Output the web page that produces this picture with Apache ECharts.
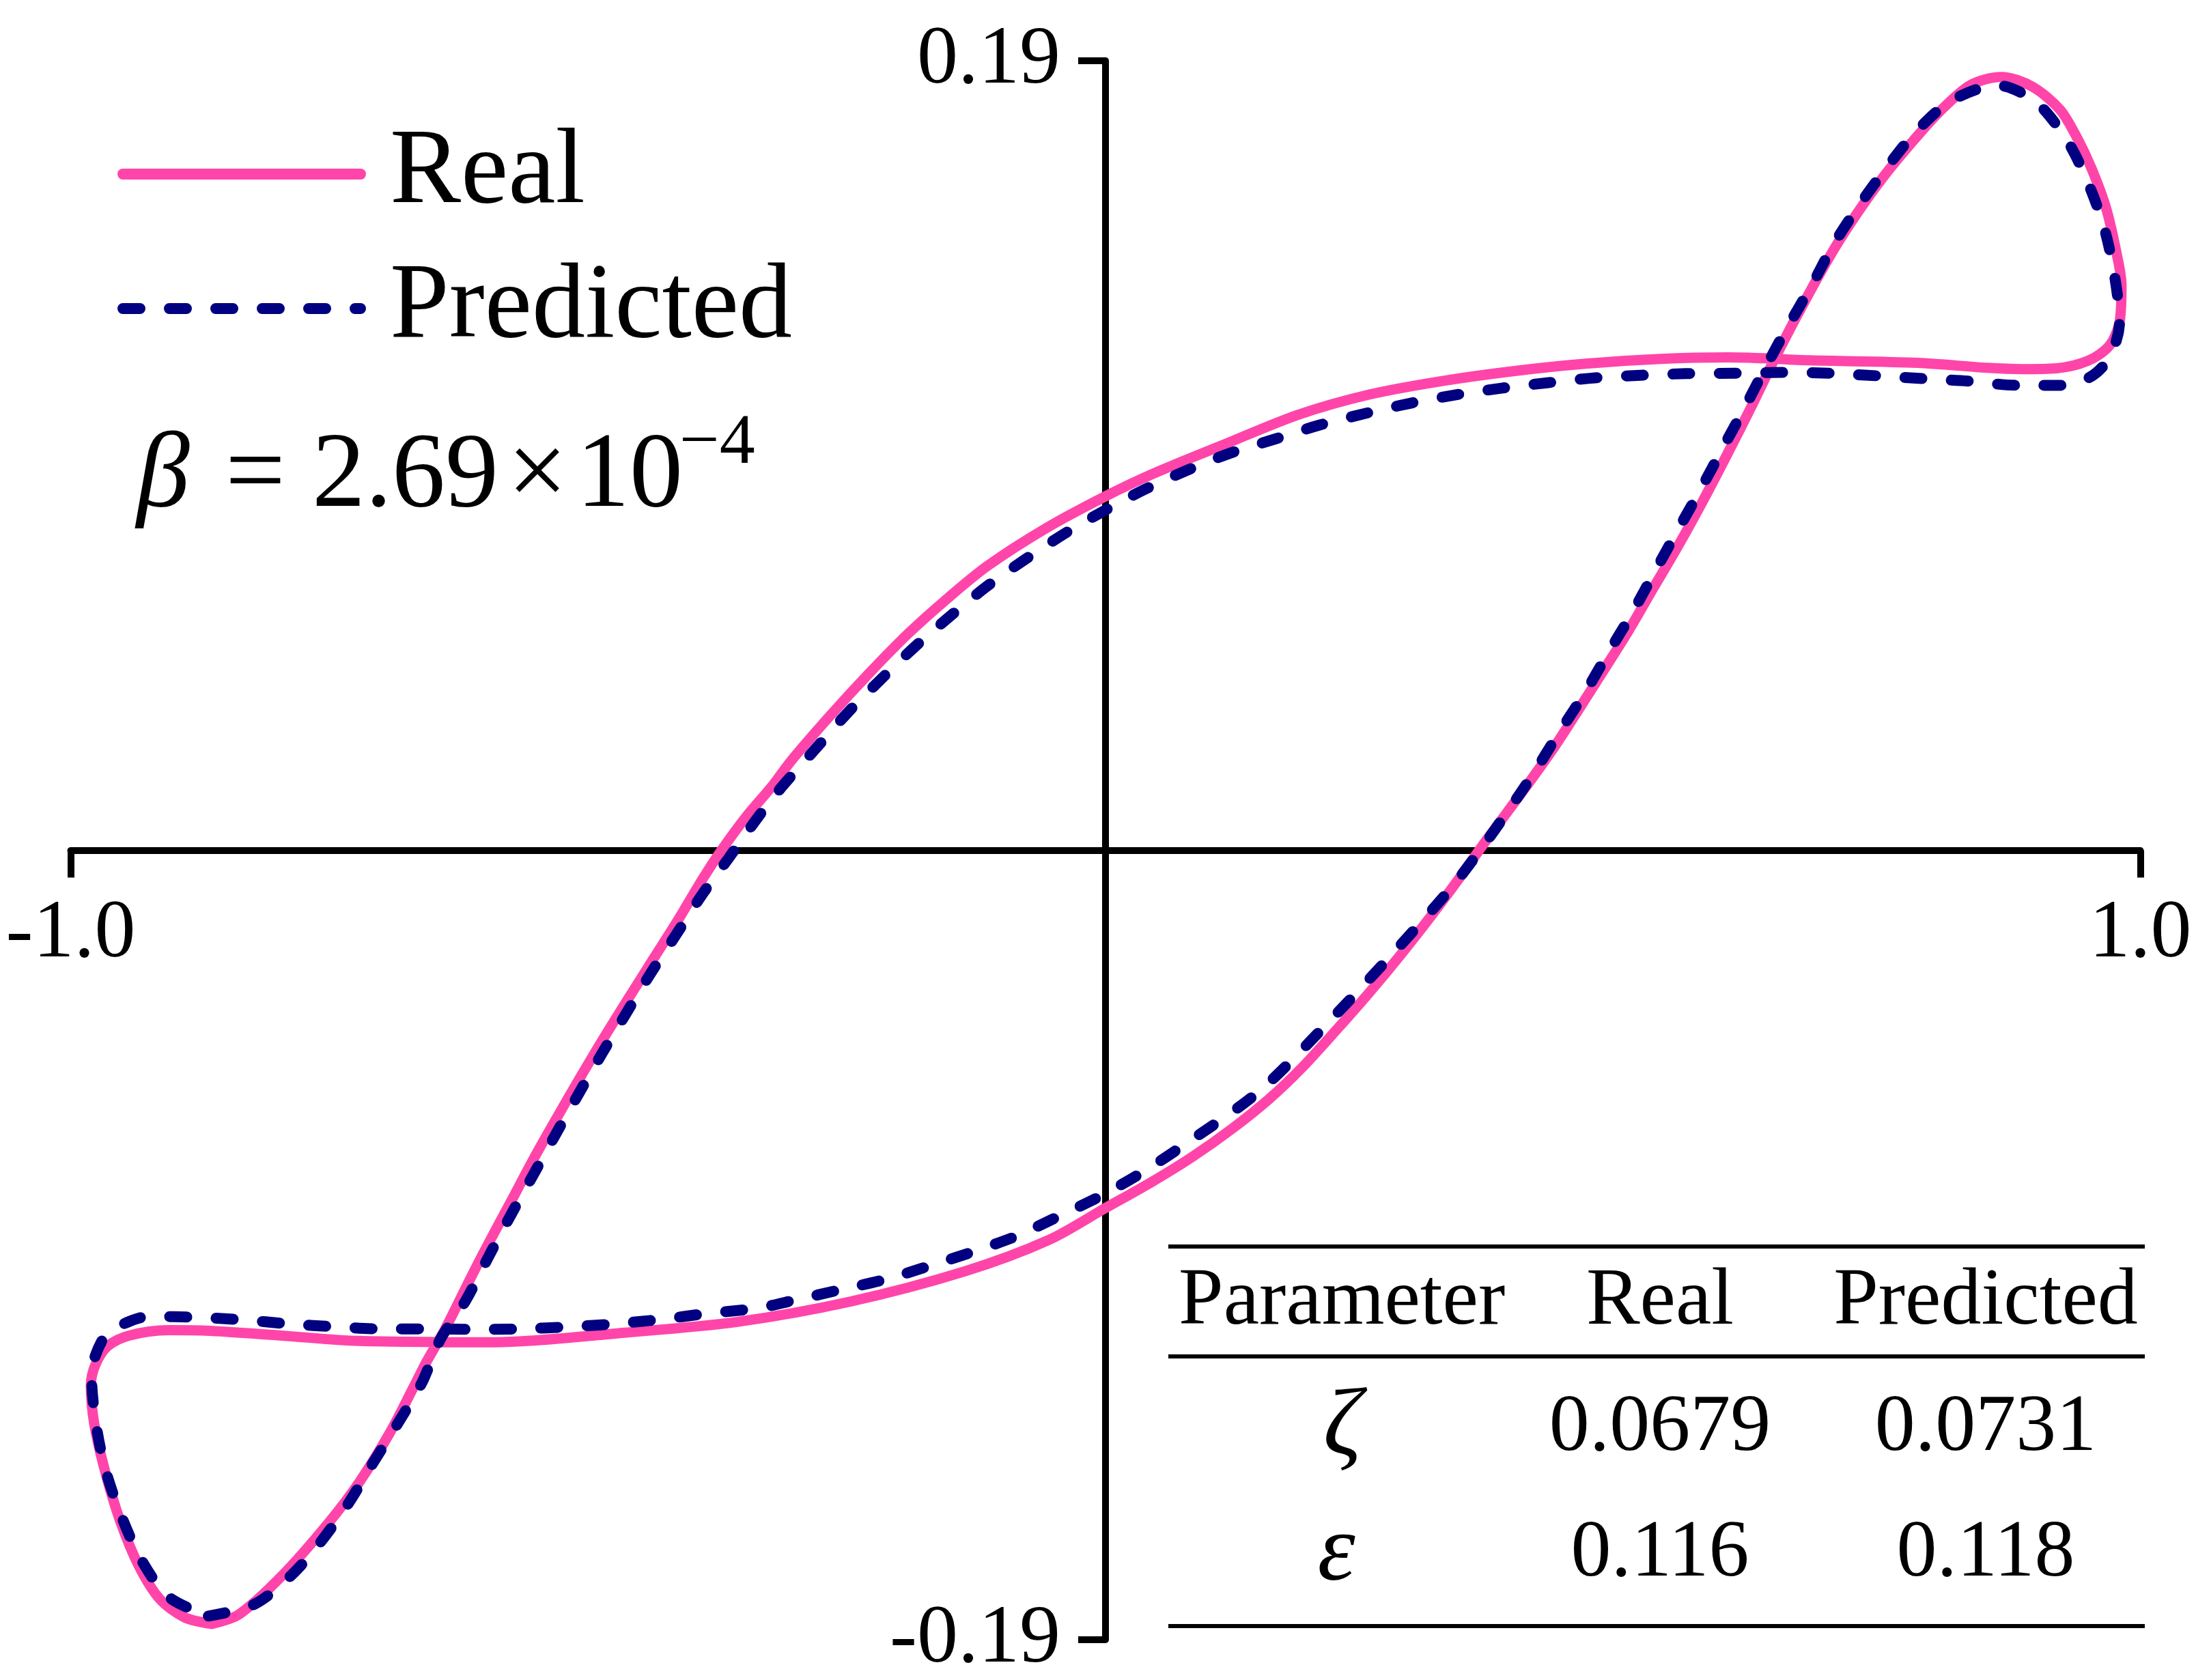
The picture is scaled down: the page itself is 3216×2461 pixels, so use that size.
<!DOCTYPE html>
<html>
<head>
<meta charset="utf-8">
<script src="https://cdn.jsdelivr.net/npm/echarts@6/dist/echarts.min.js"></script>
<style>
html,body{margin:0;padding:0;background:#fff;}
#chart{width:3216px;height:2461px;}
</style>
</head>
<body>
<div id="chart"></div>
<script>
// ---- data ----
const xTicks = [-1, 1];
const yTicks = [-0.19, 0.19];

const realX = [-0.8637,-0.8373,-0.7958,-0.7509,-0.7206,-0.6909,-0.6678,-0.6559,-0.6381,-0.6110,
-0.5945,-0.5734,-0.5523,-0.5312,-0.5074,-0.4839,-0.4606,-0.4368,-0.4131,-0.3896,
-0.3708,-0.3471,-0.3213,-0.3035,-0.2653,-0.2276,-0.1900,-0.1518,-0.1142,-0.0574,
-0.0007,0.0468,0.1161,0.1861,0.2554,0.3246,0.3939,0.4639,0.5332,0.6024,
0.6803,0.7846,0.8519,0.8855,0.9192,0.9495,0.9700,0.9799,0.9818,0.9766,
0.9667,0.9528,0.9396,0.9225,0.8954,0.8657,0.8354,0.8050,0.7780,0.7509,
0.7272,0.7041,0.6763,0.6473,0.6236,0.6002,0.5767,0.5530,0.5292,0.5061,
0.4824,0.4586,0.4355,0.4117,0.3880,0.3642,0.3411,0.3141,0.2857,0.2554,
0.2237,0.1900,0.1584,0.1214,0.0838,0.0435,0.0000,-0.0548,-0.1366,-0.2461,
-0.3557,-0.4645,-0.5906,-0.7219,-0.7964,-0.8697,-0.9053,-0.9436,-0.9640,-0.9759,
-0.9805,-0.9772,-0.9667,-0.9522,-0.9344,-0.9139,-0.8901,-0.8637];
const realY = [-0.1862,-0.1839,-0.1746,-0.1619,-0.1519,-0.1399,-0.1288,-0.1230,-0.1152,-0.1017,
-0.0938,-0.0840,-0.0741,-0.0648,-0.0546,-0.0448,-0.0355,-0.0261,-0.0168,-0.0070,
0.0001,0.0081,0.0157,0.0216,0.0326,0.0428,0.0523,0.0608,0.0684,0.0775,
0.0851,0.0907,0.0978,0.1048,0.1097,0.1129,0.1153,0.1171,0.1182,0.1186,
0.1179,0.1173,0.1161,0.1158,0.1160,0.1178,0.1214,0.1271,0.1360,0.1442,
0.1547,0.1641,0.1711,0.1782,0.1838,0.1861,0.1841,0.1775,0.1700,0.1618,
0.1536,0.1447,0.1324,0.1186,0.1065,0.0950,0.0838,0.0731,0.0630,0.0531,
0.0437,0.0344,0.0255,0.0171,0.0091,0.0011,-0.0070,-0.0160,-0.0250,-0.0341,
-0.0431,-0.0523,-0.0598,-0.0672,-0.0738,-0.0800,-0.0861,-0.0938,-0.1014,-0.1086,
-0.1135,-0.1161,-0.1184,-0.1181,-0.1168,-0.1156,-0.1155,-0.1168,-0.1193,-0.1237,
-0.1288,-0.1381,-0.1495,-0.1614,-0.1721,-0.1802,-0.1846,-0.1862];

const predX = [-0.8670,-0.8228,-0.7872,-0.7582,-0.7311,-0.7080,-0.6843,-0.6605,-0.6430,-0.6183,
-0.5972,-0.5760,-0.5536,-0.5314,-0.5091,-0.4863,-0.4626,-0.4395,-0.4144,-0.3896,
-0.3636,-0.3354,-0.3130,-0.2785,-0.2488,-0.2164,-0.1841,-0.1498,-0.1142,-0.0759,
-0.0383,-0.0013,0.0376,0.0792,0.1208,0.1630,0.2065,0.2507,0.2950,0.3385,
0.3827,0.4269,0.4731,0.5167,0.5609,0.6071,0.6533,0.6988,0.7443,0.7898,
0.8334,0.8809,0.9244,0.9508,0.9667,0.9766,0.9799,0.9746,0.9647,0.9495,
0.9297,0.8994,0.8618,0.8182,0.7846,0.7562,0.7291,0.7041,0.6836,0.6566,
0.6391,0.6176,0.5965,0.5754,0.5536,0.5305,0.5094,0.4856,0.4626,0.4375,
0.4137,0.3880,0.3622,0.3339,0.2837,0.2158,0.1485,0.0713,0.0330,-0.0053,
-0.0462,-0.0845,-0.1254,-0.1696,-0.2131,-0.2567,-0.3009,-0.3359,-0.3853,-0.4296,
-0.4758,-0.5193,-0.5688,-0.6123,-0.6533,-0.6988,-0.7430,-0.7885,-0.8347,-0.8783,
-0.9244,-0.9462,-0.9667,-0.9799,-0.9759,-0.9667,-0.9522,-0.9317,-0.9053,-0.8670];
const predY = [-0.1843,-0.1815,-0.1746,-0.1664,-0.1570,-0.1475,-0.1381,-0.1281,-0.1178,-0.1084,
-0.0983,-0.0884,-0.0784,-0.0684,-0.0586,-0.0488,-0.0390,-0.0296,-0.0201,-0.0106,
-0.0017,0.0081,0.0152,0.0249,0.0332,0.0413,0.0490,0.0564,0.0636,0.0703,
0.0764,0.0817,0.0868,0.0915,0.0956,0.0989,0.1023,0.1051,0.1076,0.1096,
0.1112,0.1125,0.1137,0.1143,0.1147,0.1148,0.1150,0.1148,0.1142,0.1135,
0.1129,0.1119,0.1119,0.1138,0.1173,0.1225,0.1271,0.1390,0.1501,0.1606,
0.1706,0.1800,0.1841,0.1805,0.1733,0.1647,0.1555,0.1460,0.1365,0.1248,
0.1168,0.1065,0.0968,0.0870,0.0773,0.0669,0.0573,0.0474,0.0376,0.0280,
0.0185,0.0091,0.0001,-0.0091,-0.0232,-0.0413,-0.0580,-0.0717,-0.0779,-0.0833,
-0.0882,-0.0927,-0.0964,-0.1000,-0.1033,-0.1058,-0.1083,-0.1102,-0.1115,-0.1129,
-0.1140,-0.1147,-0.1152,-0.1153,-0.1152,-0.1152,-0.1147,-0.1140,-0.1130,-0.1124,
-0.1122,-0.1137,-0.1168,-0.1262,-0.1375,-0.1488,-0.1595,-0.1708,-0.1797,-0.1843];

const tableHeader = ['Parameter', 'Real', 'Predicted'];
const tableSymbols = ['ζ', 'ε'];
const tableReal = ['0.0679', '0.116'];
const tablePred = ['0.0731', '0.118'];

// ---- build ----
const zip = (xs, ys) => xs.map((x, i) => [x, ys[i]]);
const FONT = 'Liberation Serif';
const PINK = '#FF45AA';
const NAVY = '#000080';

const W = 3216, H = 2461;
const G = {left: 103.5, right: 81.5, top: 89, bottom: 59};
const gridW = W - G.left - G.right, gridH = H - G.top - G.bottom;

const chart = echarts.init(document.getElementById('chart'), null, {renderer: 'canvas', devicePixelRatio: 1});

const mid = (baseline, fs) => baseline - 0.3375 * fs;
const txt = (x, y, text, fs, align, italic) => ({
  type: 'text', x: x, y: y,
  style: {text: text, font: (italic ? 'italic ' : '') + fs + 'px "' + FONT + '"', fill: '#000',
          textAlign: align, textVerticalAlign: 'middle'}
});

const graphics = [];
// beta annotation
graphics.push(txt(200, mid(753, 156), 'β', 156, 'left', true));
graphics.push(txt(330, mid(753, 156), '= 2.69\u200A×\u200A10', 156, 'left', false));
graphics.push(txt(995, mid(686, 104), '−4', 104, 'left', false));

// table rules
[1826, 1987, 2382].forEach(yy => {
  graphics.push({type: 'line', shape: {x1: 1711, y1: yy, x2: 3141, y2: yy}, style: {stroke: '#000', lineWidth: 6}});
});
const colX = [1955, 2431, 2908];
graphics.push(txt(1726, mid(1948, 118), tableHeader[0], 118, 'left', false));
graphics.push(txt(colX[1], mid(1948, 118), tableHeader[1], 118, 'center', false));
graphics.push(txt(colX[2], mid(1948, 118), tableHeader[2], 118, 'center', false));
const rowBase = [2133, 2317];
const symX = [1966, 1957];
for (let i = 0; i < 2; i++) {
  graphics.push(txt(symX[i], mid(rowBase[i], 118), tableSymbols[i], 140, 'center', true));
  graphics.push(txt(colX[1], mid(rowBase[i], 118), tableReal[i], 118, 'center', false));
  graphics.push(txt(colX[2], mid(rowBase[i], 118), tablePred[i], 118, 'center', false));
}

const axisLineStyle = {show: true, onZero: false, lineStyle: {color: '#000', width: 10}};
const tickStyle = {show: true, length: 40, lineStyle: {color: '#000', width: 10}};

const option = {
  animation: false,
  backgroundColor: '#fff',
  grid: {left: G.left, right: G.right, top: G.top, bottom: G.bottom, containLabel: false, outerBoundsMode: 'none'},
  xAxis: {
    type: 'value', min: -1, max: 1, position: 'bottom', offset: -gridH / 2,
    axisLine: axisLineStyle,
    axisTick: Object.assign({}, tickStyle, {customValues: xTicks}),
    axisLabel: {customValues: xTicks, formatter: v => v.toFixed(1), margin: 64,
      fontFamily: FONT, fontSize: 120, color: '#000'},
    splitLine: {show: false}
  },
  yAxis: {
    type: 'value', min: -0.19, max: 0.19, position: 'left', offset: -gridW / 2,
    axisLine: axisLineStyle,
    axisTick: Object.assign({}, tickStyle, {customValues: yTicks}),
    axisLabel: {customValues: yTicks, formatter: v => v.toFixed(2), margin: 66,
      fontFamily: FONT, fontSize: 120, color: '#000'},
    splitLine: {show: false}
  },
  legend: {
    orient: 'vertical', left: 172, top: 177, padding: 0,
    itemWidth: 348, itemHeight: 40, itemGap: 41,
    lineStyle: {width: 16},
    itemStyle: {color: 'rgba(0,0,0,0)', borderWidth: 0, opacity: 0},
    textStyle: {fontFamily: FONT, fontSize: 156, color: '#000', padding: [0, 0, 0, 38]},
    data: ['Real', 'Predicted']
  },
  series: [
    {name: 'Real', type: 'line', data: zip(realX, realY), symbol: 'none', smooth: 0.3,
     lineStyle: {color: PINK, width: 15, cap: 'round', join: 'round'}, itemStyle: {color: PINK}, z: 2},
    {name: 'Predicted', type: 'line', data: zip(predX, predY), symbol: 'none', smooth: 0.3,
     lineStyle: {color: NAVY, width: 16, type: [25, 43], cap: 'round', join: 'round'}, itemStyle: {color: NAVY}, z: 3}
  ],
  graphic: graphics
};
chart.setOption(option);
</script>
</body>
</html>
